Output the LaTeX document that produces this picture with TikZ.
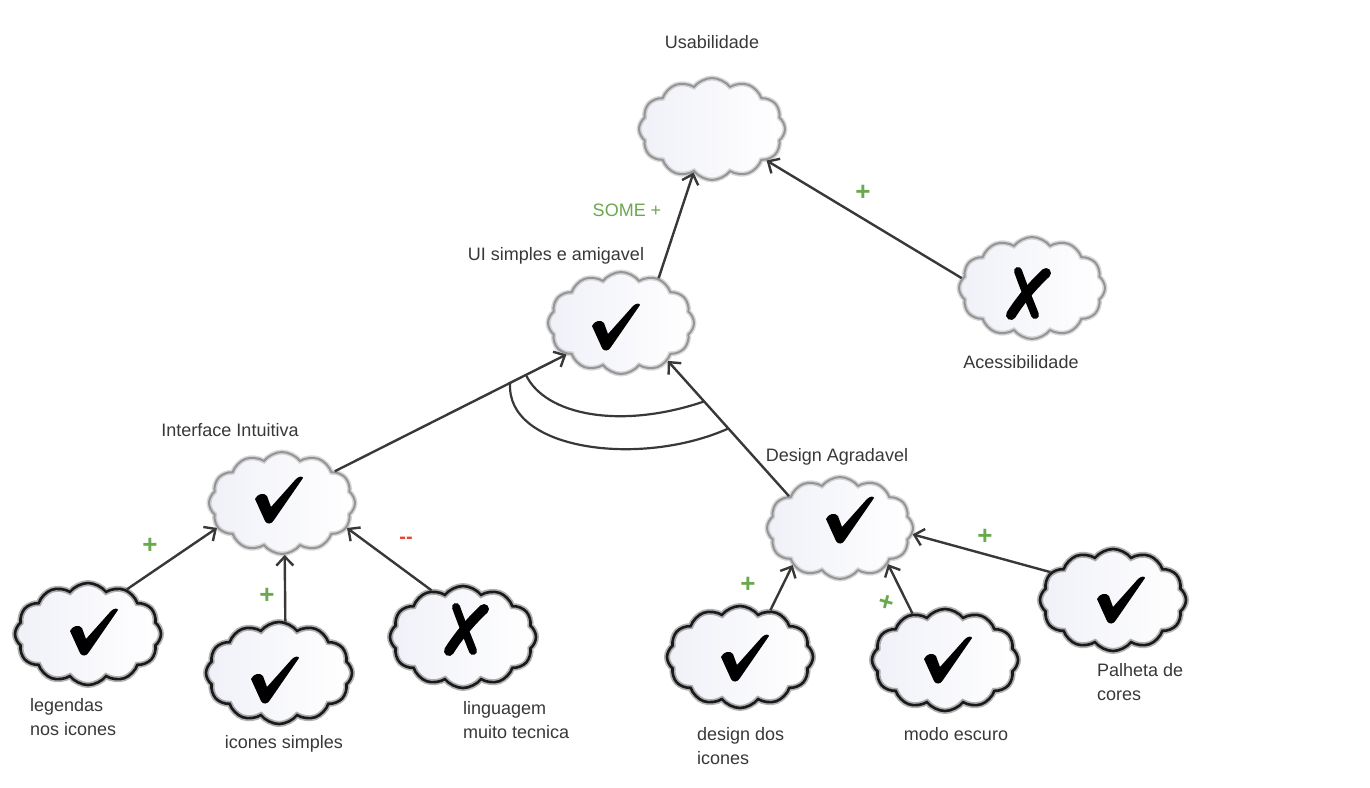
\documentclass[tikz,border=0pt]{standalone}
\usepackage{fontspec}
\setmainfont{Liberation Sans}
\usetikzlibrary{shapes.symbols,arrows.meta,calc}
\definecolor{ink}{HTML}{383838}
\definecolor{okgreen}{HTML}{6AA84F}
\definecolor{badred}{HTML}{E8472F}
\definecolor{puffblue}{HTML}{F0F1F8}
\tikzset{
  puff/.style={cloud, cloud puffs=12, cloud puff arc=105, aspect=1.45,
    minimum width=146pt, minimum height=102pt, inner sep=0pt,
    left color=puffblue, right color=white},
  softpuff/.style={puff, draw=gray!75, line width=2pt,
    postaction={draw=gray, draw opacity=0.3, line width=5pt}},
  darkpuff/.style={puff, draw=black!85, line width=2.6pt,
    postaction={draw=black, draw opacity=0.3, line width=6pt}},
  lbl/.style={text=ink, font=\fontsize{18}{24.5}\selectfont, inner sep=0pt},
  lblleft/.style={lbl, align=left, anchor=north west},
  plusg/.style={text=okgreen, font=\bfseries\fontsize{26}{26}\selectfont, inner sep=0pt},
  link/.style={draw=ink, line width=2.4pt,
    -{Straight Barb[length=9pt,width=17pt,line width=2.4pt]}},
  andarc/.style={draw=ink, line width=2.2pt},
  pics/checkmk/.style={code={
    \fill[black] (-24,-1) .. controls (-22,-6) and (-15,-8) .. (-12,-4)
      -- (-8,7) -- (17,-21) .. controls (20,-24) and (24,-24) .. (24,-22)
      -- (-5,20) .. controls (-7,24) and (-12,25) .. (-14,21) -- cycle;}},
  pics/crossmk/.style={code={
    \draw[black, line width=8pt, line cap=round]
      (-9,-23) .. controls (-3,-6) and (3,8) .. (8,21);
    \draw[black, line width=10pt, line cap=round]
      (19,-21) .. controls (5,-8) and (-8,8) .. (-16,21);}}
}
\begin{document}
\begin{tikzpicture}[x=1pt,y=-1pt]
\useasboundingbox[fill=white] (0,0) rectangle (1370,787);

% goals and softgoals
\node[softpuff] (usab)  at (712,129) {};
\node[softpuff] (ui)    at (621,323) {};
\node[softpuff] (acess) at (1032,288) {};
\node[softpuff] (intf)  at (282,503) {};
\node[softpuff] (dsgn)  at (840,528) {};
\node[darkpuff] (leg)   at (88,634) {};
\node[darkpuff] (icos)  at (279,673) {};
\node[darkpuff] (ling)  at (463,637) {};
\node[darkpuff] (dicon) at (740,657) {};
\node[darkpuff] (modo)  at (945,660) {};
\node[darkpuff] (palh)  at (1113,600) {};

% satisfaction marks
\pic at (616,327) {checkmk};
\pic at (279,500) {checkmk};
\pic at (850,520) {checkmk};
\pic at (94,632) {checkmk};
\pic at (275,680) {checkmk};
\pic at (745,658) {checkmk};
\pic at (948,660) {checkmk};
\pic at (1121,600) {checkmk};
\pic at (1027,294) {crossmk};
\pic at (465,630) {crossmk};

% contributions
\draw[link] (ui.50) -- (usab.247);
\draw[link] (acess.172) -- (usab.330);
\draw[link] (intf.31) -- (ui.210);
\draw[link] (dsgn.148) -- (ui.321);
\draw[link] (leg.49) -- (intf.201);
\draw[link] (icos.83) -- (intf.273);
\draw[link] (ling.124) -- (intf.339);
\draw[link] (dicon.57) -- (dsgn.218);
\draw[link] (modo.125) -- (dsgn.323);
\draw[link] (palh.156) -- (dsgn.355);

% AND decomposition arcs
\draw[andarc] ($(intf.31)!0.825!(ui.210)$) .. controls (545,415) and (620,430) .. ($(dsgn.148)!0.7!(ui.321)$);
\draw[andarc] ($(intf.31)!0.757!(ui.210)$) .. controls (505,450) and (640,468) .. ($(dsgn.148)!0.5!(ui.321)$);

% names
\node[lbl] (tusab)  at (712,42) {Usabilidade};
\node[lbl] (tui)    at (556,256) {UI simples e amigavel};
\node[lbl] (tacess) at (1021,362) {Acessibilidade};
\node[lbl] (tintf)  at (230,430) {Interface Intuitiva};
\node[lbl] (tdsgn)  at (837,457) {Design Agradavel};
\node[lblleft] (tleg)   at (30,698) {legendas\\nos icones};
\node[lbl] (ticos)  at (284,744) {icones simples};
\node[lblleft] (tling)  at (463,701) {linguagem\\muito tecnica};
\node[lblleft] (tdicon) at (697,727) {design dos\\icones};
\node[lbl] (tmodo)  at (956,734) {modo escuro};
\node[lblleft] (tpalh)  at (1097,663) {Palheta de\\cores};

% contribution signs
\node[lbl, text=okgreen] (some) at (627,210) {SOME +};
\node[plusg] (p1) at (863,193) {+};
\node[plusg] (p2) at (150,546) {+};
\node[plusg] (p3) at (267,596) {+};
\node[plusg] (p4) at (748,585) {+};
\node[plusg, rotate=-15] (p5) at (886,603) {+};
\node[plusg] (p6) at (985,537) {+};
\node[text=badred, font=\bfseries\fontsize{20}{20}\selectfont, inner sep=0pt] (m1) at (406,540) {-{}-};
\end{tikzpicture}
\end{document}
